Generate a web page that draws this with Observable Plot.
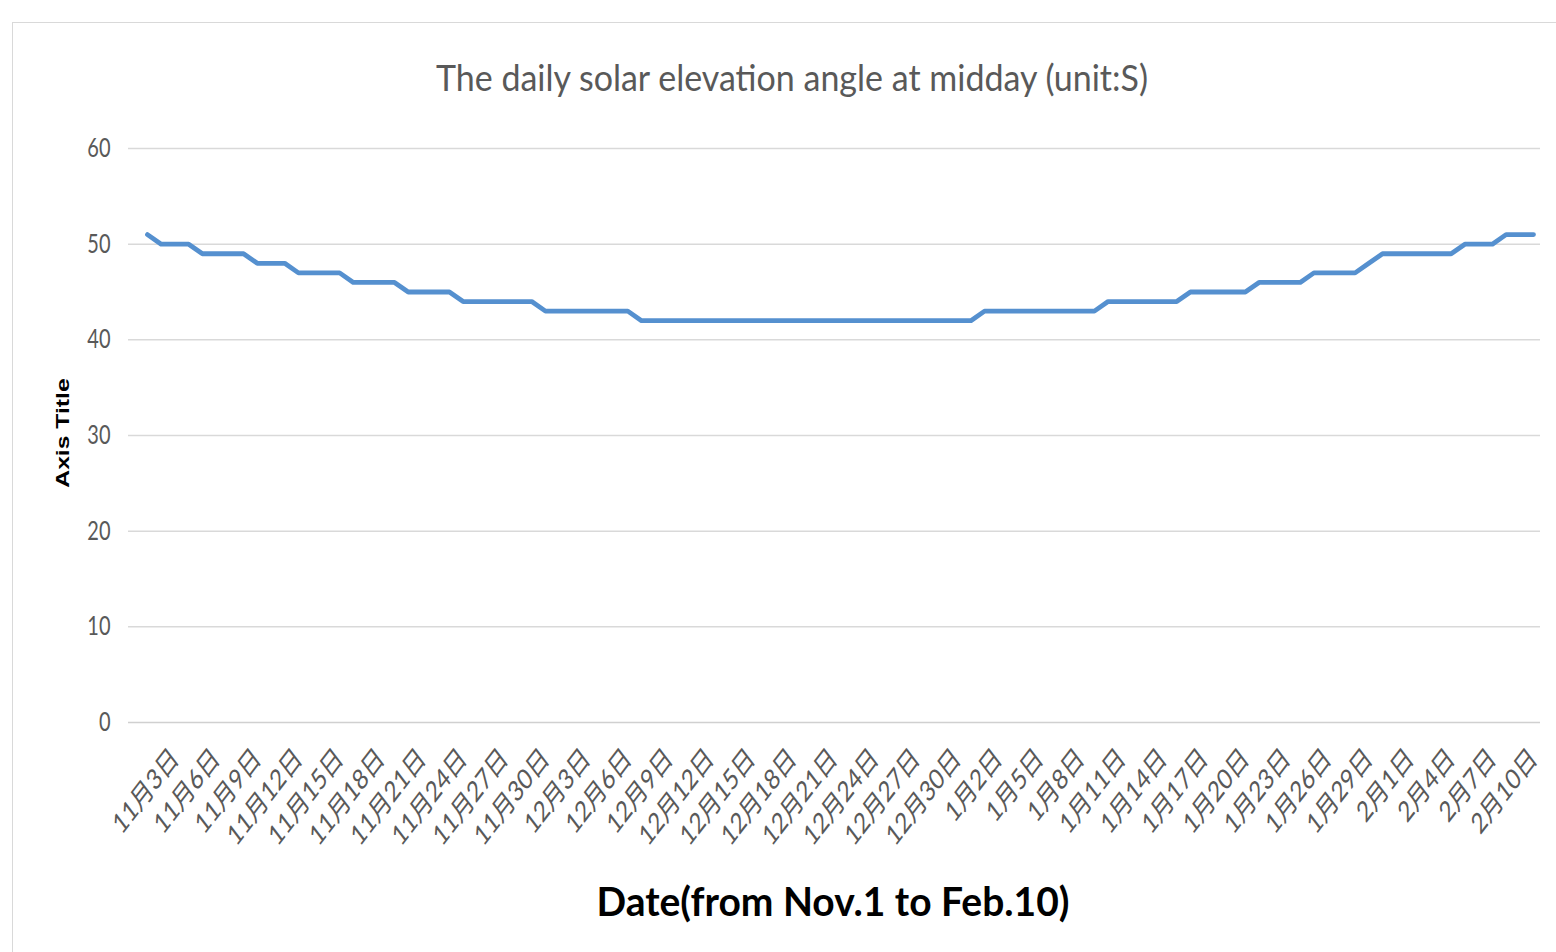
<!DOCTYPE html>
<html>
<head>
<meta charset="utf-8">
<script src="https://cdn.jsdelivr.net/npm/d3@7"></script>
<script src="https://cdn.jsdelivr.net/npm/@observablehq/plot@0.6"></script>
<style>
  html, body { margin: 0; padding: 0; background: #fff; }
  body { width: 1556px; height: 952px; overflow: hidden; position: relative; font-family: Lato, "Noto Sans CJK SC", sans-serif; }
  #frame { position: absolute; left: 12px; top: 22px; width: 1620px; height: 1000px; border: 1.5px solid #d9d9d9; box-sizing: border-box; }
  #chart { position: absolute; left: 0; top: 0; }
  .title { position: absolute; left: 0; width: 1584px; top: 52px; height: 50px; line-height: 50px; text-align: center;
           font-size: 34px; color: #595959; transform: scaleY(1.1); transform-origin: center; white-space: nowrap; }
  .xtitle { position: absolute; left: 0; width: 1666px; top: 875px; height: 50px; line-height: 50px; text-align: center;
            font-size: 39px; font-weight: 700; color: #000; transform: scaleY(1.05); transform-origin: center; white-space: nowrap; }
  .ytitle { position: absolute; left: -37px; top: 418px; width: 200px; height: 30px; line-height: 30px; text-align: center;
            font-family: "Liberation Sans", Arial, sans-serif; font-size: 19px; font-weight: 700; color: #000;
            transform: scaleY(1.3) rotate(-90deg); transform-origin: center; white-space: nowrap; }
</style>
</head>
<body>
<div id="frame"></div>
<div id="chart"></div>
<div class="title">The daily solar elevation angle at midday (unit:S)</div>
<div class="ytitle">Axis Title</div>
<div class="xtitle">Date(from Nov.1 to Feb.10)</div>
<script>
// Daily midday solar elevation (degrees)
const novValues = [51,50,50,50,49,49,49,49,48,48,48,47,47,47,47,46,46,46,46,45,45,45,45,44,44,44,44,44,44,43];
const decValues = [43,43,43,43,43,43,42,42,42,42,42,42,42,42,42,42,42,42,42,42,42,42,42,42,42,42,42,42,42,42,42];
const janValues = [43,43,43,43,43,43,43,43,43,44,44,44,44,44,44,45,45,45,45,45,46,46,46,46,47,47,47,47,48,49,49];
const febValues = [49,49,49,49,50,50,50,51,51,51];

// Category labels (month number + day)
const months = [
  {m: 11, values: novValues},
  {m: 12, values: decValues},
  {m: 1, values: janValues},
  {m: 2, values: febValues}
];

// Tick labels shown on the x axis
const xTickLabels = [
  "11月3日","11月6日","11月9日","11月12日","11月15日","11月18日","11月21日","11月24日","11月27日","11月30日",
  "12月3日","12月6日","12月9日","12月12日","12月15日","12月18日","12月21日","12月24日","12月27日","12月30日",
  "1月2日","1月5日","1月8日","1月11日","1月14日","1月17日","1月20日","1月23日","1月26日","1月29日",
  "2月1日","2月4日","2月7日","2月10日"
];
const yTicks = [0, 10, 20, 30, 40, 50, 60];

const data = months.flatMap(({m, values}) => values.map((v, i) => ({date: `${m}月${i + 1}日`, value: v})));
const categories = data.map(d => d.date);

const plot = Plot.plot({
  width: 1556,
  height: 860,
  marginLeft: 128,
  marginRight: 16,
  marginTop: 148,
  marginBottom: 138,
  style: {background: "transparent", color: "#595959", fontFamily: 'Lato, "Noto Sans CJK SC", sans-serif'},
  x: {type: "point", domain: categories, padding: 0, insetLeft: 19, insetRight: 7},
  y: {domain: [0, 60]},
  marks: [
    Plot.gridY(yTicks.filter(t => t > 0), {stroke: "#d9d9d9", strokeOpacity: 1, strokeWidth: 1.5}),
    Plot.ruleY([0], {stroke: "#d0d0d0", strokeWidth: 1.5}),
    Plot.axisY({ticks: yTicks, tickSize: 0, tickPadding: 18, fontSize: 20, label: null}),
    Plot.axisX({ticks: xTickLabels, tickSize: 0, tickPadding: 31, tickRotate: -45, fontSize: 22, label: null}),
    Plot.line(data, {x: "date", y: "value", stroke: "#5590cf", strokeWidth: 4.8, strokeLinejoin: "round", strokeLinecap: "round"})
  ]
});
document.getElementById("chart").appendChild(plot);

// Reproduce the vertically stretched look of the original screenshot on tick labels
plot.querySelectorAll('g[aria-label="x-axis tick label"] text').forEach(t => {
  const tr = t.getAttribute("transform") || "";
  t.setAttribute("transform", tr.replace("rotate", "scale(1,1.3) rotate"));
});
plot.querySelectorAll('g[aria-label="y-axis tick label"] text').forEach(t => {
  const tr = t.getAttribute("transform") || "";
  t.setAttribute("transform", tr + " scale(1,1.3)");
});
</script>
</body>
</html>
